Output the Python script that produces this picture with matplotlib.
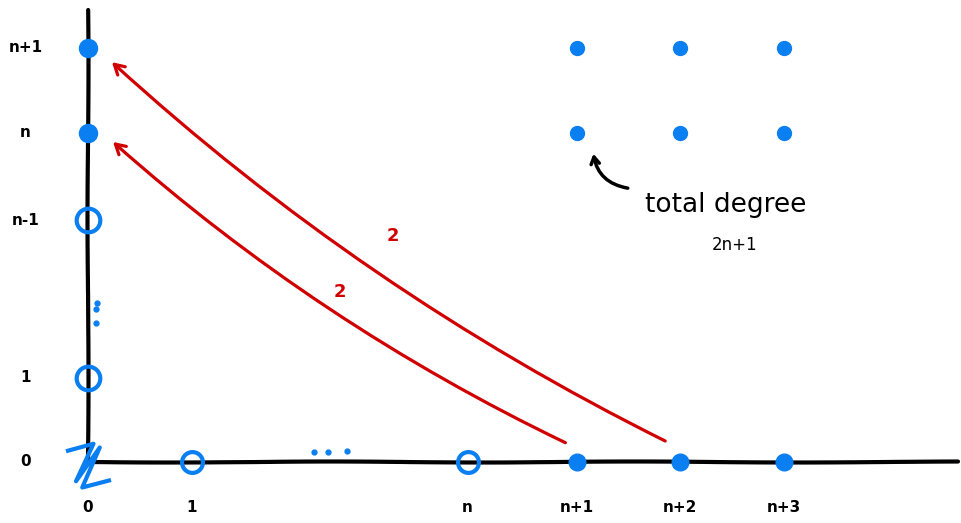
import numpy as np
import matplotlib
matplotlib.use("Agg")
import matplotlib.pyplot as plt
from matplotlib.path import Path

# lattice positions (unit = one step on each axis)
x_pos = [0, 1, 3.65, 4.7, 5.69, 6.69]
x_labels = ['0', '1', 'n', 'n+1', 'n+2', 'n+3']
y_pos = [0, 1, 2.88, 3.92, 4.93]
y_labels = ['0', '1', 'n-1', 'n', 'n+1']

# which lattice points are filled / hollow
y_filled = [3.92, 4.93]
y_hollow = [1, 2.88]
x_filled = [4.7, 5.69, 6.69]
x_hollow = [1, 3.65]

# the 2x3 block of points with total degree 2n+1
grid_x = [4.7, 5.69, 6.69]
grid_y = [3.92, 4.93]

# red arrows (tail -> head) with multiplicity label
arrow_tail = [(4.59, 0.23), (5.55, 0.25)]
arrow_head = [(0.24, 3.81), (0.23, 4.76)]
arrow_mult = ['2', '2']
mult_xy = [(2.42, 2.02), (2.93, 2.69)]

# little "..." marks
dots_x = [(2.17, 0.12), (2.31, 0.12), (2.49, 0.13)]
dots_y = [(0.09, 1.89), (0.08, 1.82), (0.08, 1.65)]

blue = '#0a7ff2'
red = '#d10000'

fig = plt.figure(figsize=(9.61, 5.23), dpi=100)
ax = fig.add_axes([0, 0, 1, 1])
ax.set_xlim(-88 / 104, (961 - 88) / 104)
ax.set_ylim(-61 / 84, (523 - 61) / 84)
ax.axis('off')

# axes, slightly wobbly like a hand drawing
yax, = ax.plot([0, 0], [0, 5.38], color='black', lw=3, solid_capstyle='round', zorder=2)
xax, = ax.plot([0, 8.37], [0, 0], color='black', lw=3, solid_capstyle='round', zorder=2)
for ln in (yax, xax):
    ln.set_sketch_params(scale=0.5, length=400, randomness=3)

# tick labels
for x, lab in zip(x_pos, x_labels):
    ax.text(x, -0.54, lab, ha='center', va='center', fontsize=11, fontweight='bold')
for y, lab in zip(y_pos, y_labels):
    ax.text(-0.6, y, lab, ha='center', va='center', fontsize=11, fontweight='bold')

# points
ax.plot([0] * len(y_filled), y_filled, 'o', color=blue, ms=13, zorder=3)
ax.plot([0] * len(y_hollow), y_hollow, 'o', mfc='none', mec=blue, mew=3, ms=17, zorder=3)
ax.plot(x_filled, [0] * len(x_filled), 'o', color=blue, ms=12, zorder=3)
ax.plot(x_hollow, [0] * len(x_hollow), 'o', mfc='none', mec=blue, mew=3, ms=15, zorder=3)
gx, gy = np.meshgrid(grid_x, grid_y)
ax.plot(gx.ravel(), gy.ravel(), 'o', color=blue, ms=10, zorder=3)

# zigzag at the origin
zig = Path([(-0.9, 0.45), (0.2, 0.75), (-0.5, -0.75), (0.45, 0.6), (-0.25, -1.0), (0.9, -0.7)])
ax.plot([0], [0], marker=zig, ms=36, mfc='none', mec=blue, mew=3, zorder=3)

for x, y in dots_x + dots_y:
    ax.plot(x, y, 'o', color=blue, ms=3.5)

# red arrows
for (tx, ty), (hx, hy), m, (mx, my) in zip(arrow_tail, arrow_head, arrow_mult, mult_xy):
    ax.annotate('', xy=(hx, hy), xytext=(tx, ty),
                arrowprops=dict(arrowstyle='->,head_length=0.7,head_width=0.4', color=red, lw=2.3,
                                connectionstyle='arc3,rad=-0.07', shrinkA=0, shrinkB=0))
    ax.text(mx, my, m, color=red, fontsize=13, fontweight='bold', ha='center', va='center')

# annotation
ax.annotate('', xy=(4.86, 3.67), xytext=(5.19, 3.26),
            arrowprops=dict(arrowstyle='->,head_length=0.5,head_width=0.3', color='black', lw=2.5,
                            connectionstyle='arc3,rad=-0.35', shrinkA=0, shrinkB=0))
ax.text(6.13, 3.06, 'total degree', fontsize=19, ha='center', va='center')
ax.text(6.22, 2.58, '2n+1', fontsize=12, ha='center', va='center')

fig.savefig('out.png', dpi=100)
